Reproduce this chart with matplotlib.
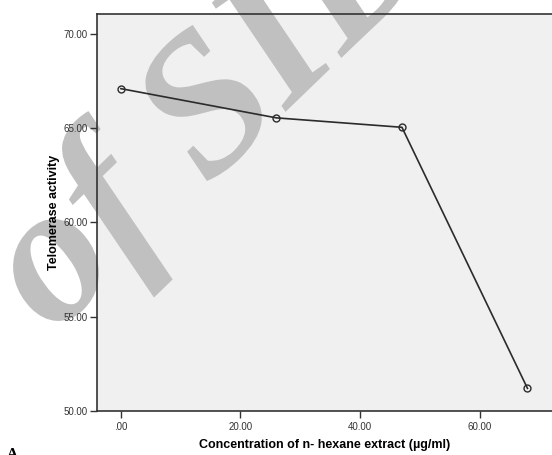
import numpy as np
import matplotlib.pyplot as plt
from matplotlib.textpath import TextPath
from matplotlib.patches import PathPatch
from matplotlib.font_manager import FontProperties
from matplotlib.transforms import Affine2D

# values
concentration = [0.0, 26.0, 47.0, 68.0]
telomerase = [67.1, 65.55, 65.05, 51.2]
x_ticks = [0, 20, 40, 60]
x_tick_labels = ['.00', '20.00', '40.00', '60.00']
y_ticks = [50, 55, 60, 65, 70]
y_tick_labels = ['50.00', '55.00', '60.00', '65.00', '70.00']
watermark = 'of SID'

plt.rcParams['font.family'] = ['Liberation Sans', 'DejaVu Sans']

W, H = 552, 455
fig = plt.figure(figsize=(W/100, H/100), dpi=100)
ax = fig.add_axes([97/W, 1-411/H, 1-97/W, (411-14)/H])
ax.set_facecolor('#f0f0f0')

# rotated watermark, placed in pixel space so the "o" sits lower left
wm_font = FontProperties(family='Liberation Serif', style='italic', weight='bold')
tp = TextPath((0, 0), watermark, size=1, prop=wm_font)
o_box = TextPath((0, 0), watermark[0], size=1, prop=wm_font).get_extents()
o_mid = np.array([(o_box.x0 + o_box.x1) / 2, (o_box.y0 + o_box.y1) / 2])
rot = Affine2D().scale(198).rotate_deg(44)
tx, ty = np.array([56, H - 270]) - rot.transform(o_mid)
ax.add_patch(PathPatch(tp, transform=rot + Affine2D().translate(tx, ty),
                       facecolor='#c0c0c0', edgecolor='none',
                       clip_on=False, zorder=1.5))

ax.plot(concentration, telomerase, color='#2b2b2b', lw=1.2, zorder=3,
        marker='o', ms=5, mfc='none', mec='#2b2b2b', mew=1.0)

ax.set_xlim(-4, 72.1)
ax.set_ylim(50, 71.06)
ax.set_xticks(x_ticks)
ax.set_xticklabels(x_tick_labels)
ax.set_yticks(y_ticks)
ax.set_yticklabels(y_tick_labels)
ax.tick_params(direction='out', length=5, width=1, color='#333333',
               labelsize=7, labelcolor='#333333', pad=2)
ax.tick_params(axis='x', pad=3)

for side in ['left', 'bottom', 'top']:
    ax.spines[side].set_color('#333333')
    ax.spines[side].set_linewidth(1.2)
ax.spines['right'].set_visible(False)

ax.set_xlabel('Concentration of n- hexane extract (µg/ml)', fontsize=9,
              fontweight='bold', labelpad=5)
ax.set_ylabel('Telomerase activity', fontsize=9, fontweight='bold', labelpad=2)

fig.text(0.012, 0.0, 'A', fontsize=11, fontweight='bold',
         family='Liberation Serif', ha='left', va='center')

fig.savefig('out.png', dpi=100)
